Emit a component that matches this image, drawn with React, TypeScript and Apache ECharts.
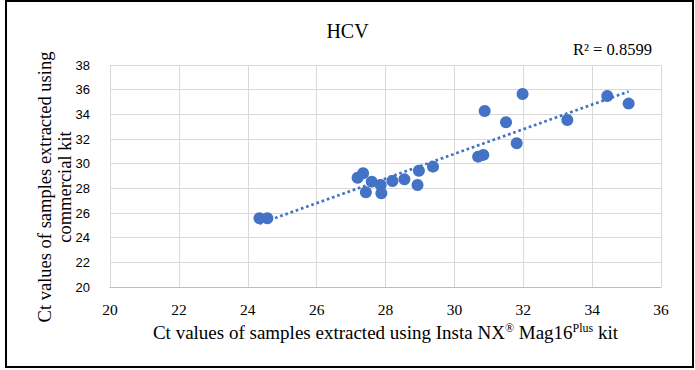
import React, { useEffect, useRef } from "react";
import * as echarts from "echarts";

const xValues = [24.34, 24.57, 27.19, 27.35, 27.43, 27.6, 27.86, 27.88, 28.2, 28.55, 28.93, 28.97, 29.38, 30.69, 30.84, 30.88, 31.5, 31.81, 31.98, 33.28, 34.44, 35.06];
const yValues = [25.57, 25.57, 28.86, 29.22, 27.68, 28.54, 28.27, 27.6, 28.6, 28.73, 28.27, 29.43, 29.76, 30.57, 30.71, 34.27, 33.36, 31.65, 35.65, 33.54, 35.49, 34.87];
const xTicks = { min: 20, max: 36, step: 2 };
const yTicks = { min: 20, max: 38, step: 2 };
const titleText = "HCV";
const r2Text = "R² = 0.8599";
const xAxisName = "Ct values of samples extracted using Insta NX{sup|®} Mag16{sup|Plus} kit";
const yAxisName = "Ct values of samples extracted using\ncommercial kit";

const SERIF = "Liberation Serif";
const SANS = "Liberation Sans";
const BLUE = "#4472C4";

function linearFit(xs: number[], ys: number[]) {
  const n = xs.length;
  const mx = xs.reduce((a, b) => a + b, 0) / n;
  const my = ys.reduce((a, b) => a + b, 0) / n;
  let sxy = 0, sxx = 0;
  for (let i = 0; i < n; i++) {
    sxy += (xs[i] - mx) * (ys[i] - my);
    sxx += (xs[i] - mx) * (xs[i] - mx);
  }
  const slope = sxy / sxx;
  return { slope, intercept: my - slope * mx };
}

export default function App() {
  const ref = useRef<HTMLDivElement>(null);
  useEffect(() => {
    if (!ref.current) return;
    const chart = echarts.init(ref.current, undefined, { renderer: "svg" });
    const points = xValues.map((x, i) => [x, yValues[i]]);
    const fit = linearFit(xValues, yValues);
    const x0 = Math.min(...xValues);
    const x1 = Math.max(...xValues);
    const trend = [
      [x0, fit.intercept + fit.slope * x0],
      [x1, fit.intercept + fit.slope * x1],
    ];
    chart.setOption({
      animation: false,
      backgroundColor: "#ffffff",
      title: {
        text: titleText,
        left: "center",
        top: 16,
        textStyle: { fontFamily: SERIF, fontSize: 20, fontWeight: "normal", color: "#000" },
      },
      grid: { left: 110, right: 34, top: 65, bottom: 83, containLabel: false },
      xAxis: {
        type: "value",
        min: xTicks.min,
        max: xTicks.max,
        interval: xTicks.step,
        axisLine: { show: true, lineStyle: { color: "#bfbfbf", width: 1 } },
        axisTick: { show: false },
        splitLine: { show: true, lineStyle: { color: "#d9d9d9", width: 1 } },
        axisLabel: { fontFamily: SERIF, fontSize: 15.5, color: "#000", margin: 14 },
        name: xAxisName,
        nameLocation: "middle",
        nameGap: 33,
        nameTextStyle: {
          fontFamily: SERIF,
          fontSize: 19,
          color: "#000",
          lineHeight: 22,
          rich: {
            sup: { fontFamily: SERIF, fontSize: 12, color: "#000", verticalAlign: "top", lineHeight: 22 },
          },
        },
      },
      yAxis: {
        type: "value",
        min: yTicks.min,
        max: yTicks.max,
        interval: yTicks.step,
        axisLine: { show: false },
        axisTick: { show: false },
        splitLine: { show: true, lineStyle: { color: "#d9d9d9", width: 1 } },
        axisLabel: { fontFamily: SANS, fontSize: 13, color: "#000", margin: 20 },
      },
      graphic: [
        {
          type: "rect",
          shape: { x: 6, y: 1, width: 687, height: 366 },
          style: { fill: "none", stroke: "#000", lineWidth: 2 },
          silent: true,
        },
        {
          type: "text",
          x: 573,
          y: 49,
          style: { text: r2Text, fontFamily: SERIF, fontSize: 16.5, fill: "#000", textAlign: "left", textVerticalAlign: "middle" },
        },
        {
          type: "text",
          x: 55,
          y: 187,
          rotation: Math.PI / 2,
          style: {
            text: yAxisName,
            fontFamily: SERIF,
            fontSize: 18.5,
            lineHeight: 19.5,
            fill: "#000",
            textAlign: "center",
            textVerticalAlign: "middle",
          },
        },
      ],
      series: [
        {
          type: "line",
          data: trend,
          symbol: "none",
          lineStyle: { color: BLUE, width: 2.7, type: [2.7, 2.8], cap: "butt" },
          z: 2,
          silent: true,
        },
        {
          type: "scatter",
          data: points,
          symbol: "circle",
          symbolSize: 12,
          itemStyle: { color: BLUE, opacity: 1 },
          z: 3,
        },
      ],
    });
    return () => chart.dispose();
  }, []);
  return (
    <div
      ref={ref}
      style={{ position: "absolute", left: 0, top: 0, width: 695, height: 370 }}
    />
  );
}
